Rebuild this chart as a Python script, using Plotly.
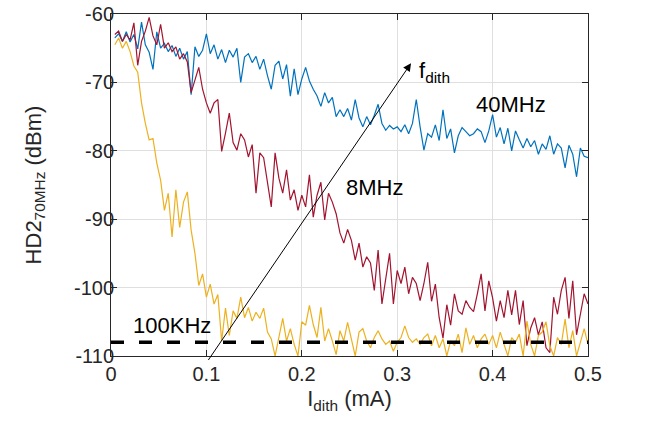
import numpy as np
import plotly.graph_objects as go

# current axis (mA): 0.004 ... 0.500
i_dith = np.round(np.arange(1, 126) * 0.004, 3)

hd2_40mhz = [
    -63.5, -62.9, -64.0, -62.6, -64.1, -63.0, -65.1, -61.2, -64.5, -65.6,
    -68.1, -62.6, -65.0, -64.3, -65.5, -64.6, -66.2, -65.0, -66.6, -65.5,
    -71.8, -64.8, -66.2, -65.3, -62.9, -65.8, -64.5, -66.6, -65.2, -67.1,
    -65.3, -66.3, -65.0, -70.0, -66.3, -65.8, -67.1, -66.2, -68.1, -66.6,
    -69.0, -71.0, -67.5, -66.9, -69.5, -67.4, -72.0, -68.0, -71.8, -69.5,
    -67.8, -69.8, -71.0, -72.0, -73.5, -71.5, -73.0, -72.2, -75.0, -74.0,
    -75.0, -73.8, -75.5, -72.5, -75.2, -76.5, -75.0, -76.2, -74.8, -73.2,
    -76.0, -77.0, -76.3, -76.8, -76.5, -77.2, -76.2, -77.5, -76.0, -72.5,
    -76.5, -79.9, -77.5, -78.0, -76.2, -78.5, -74.0, -78.2, -76.8, -80.3,
    -77.8, -76.6, -77.2, -77.8, -77.5, -76.8, -77.2, -78.8, -77.1, -74.7,
    -78.0, -76.6, -79.0, -76.7, -80.0, -77.1, -78.4, -79.6, -78.2, -79.4,
    -78.5, -80.5, -79.0, -79.8, -77.8, -80.5, -79.0, -79.6, -82.5, -79.2,
    -80.5, -83.8, -79.6, -80.8, -81.0,
]

hd2_8mhz = [
    -63.0, -62.5, -64.0, -63.0, -63.8, -61.3, -67.5, -64.0, -62.5, -60.5,
    -63.2, -64.5, -61.5, -65.0, -64.2, -65.5, -64.8, -66.6, -65.8, -67.0,
    -71.5, -69.5, -67.8, -71.0, -73.0, -74.5, -73.0, -72.5, -80.1, -77.4,
    -74.5, -78.8, -79.9, -77.5, -78.4, -80.9, -79.1, -86.2, -80.3, -81.0,
    -84.3, -88.2, -80.3, -84.0, -86.2, -82.8, -87.2, -85.7, -88.7, -86.5,
    -88.2, -83.5, -89.7, -86.5, -84.6, -90.1, -86.2, -87.5, -89.2, -92.0,
    -93.5, -91.5, -93.1, -96.0, -93.5, -97.0, -95.5, -96.4, -100.4, -94.5,
    -102.4, -98.5, -95.0, -102.4, -97.5, -99.4, -97.0, -100.9, -98.5, -99.4,
    -101.9, -99.4, -96.3, -102.0, -99.5, -104.4, -107.4, -102.5, -105.5, -100.9,
    -103.4, -103.9, -101.9, -102.9, -103.5, -100.9, -98.0, -103.4, -99.0, -101.5,
    -104.9, -101.9, -104.4, -100.4, -104.0, -100.4, -105.4, -101.9, -108.5, -105.9,
    -104.4, -106.9, -105.0, -108.8, -109.5, -101.4, -103.9, -100.4, -98.5, -104.5,
    -99.0, -106.9, -103.9, -100.9, -102.4,
]

hd2_100khz = [
    -64.5, -63.5, -65.0, -64.0, -65.5, -67.6, -68.5, -73.0, -76.0, -78.4,
    -78.2, -81.8, -84.3, -88.7, -86.2, -92.6, -85.7, -91.2, -87.5, -86.0,
    -91.6, -95.0, -99.7, -98.0, -101.4, -99.5, -102.4, -101.0, -107.8, -103.0,
    -107.0, -103.4, -104.5, -101.4, -104.4, -102.9, -104.9, -103.6, -104.5, -103.0,
    -106.5, -107.5, -110.0, -107.5, -104.5, -107.8, -106.0, -108.3, -110.0, -105.0,
    -105.5, -102.6, -105.4, -107.3, -102.9, -107.8, -106.0, -107.8, -109.8, -106.3,
    -107.8, -105.1, -107.8, -110.0, -106.5, -106.0, -107.8, -108.8, -107.3, -106.3,
    -107.5, -108.3, -107.8, -109.3, -108.0, -107.3, -105.6, -107.3, -108.0, -107.5,
    -108.3, -107.3, -106.8, -108.5, -107.0, -108.8, -107.5, -110.0, -107.8, -108.5,
    -106.8, -109.5, -105.9, -108.3, -107.0, -108.8, -107.5, -106.8, -108.3, -107.0,
    -108.8, -106.5, -108.3, -110.0, -107.3, -108.0, -106.8, -110.0, -104.9, -108.3,
    -110.0, -107.0, -106.5, -105.0, -108.5, -110.0, -107.3, -108.3, -104.6, -108.8,
    -106.3, -110.0, -108.0, -106.0, -108.3,
]

noise_floor_x = [0.0, 0.5]
noise_floor_y = [-108.0, -108.0]

x_ticks = [0, 0.1, 0.2, 0.3, 0.4, 0.5]
x_ticktext = ["0", "0.1", "0.2", "0.3", "0.4", "0.5"]
y_ticks = [-110, -100, -90, -80, -70, -60]
y_ticktext = ["-110", "-100", "-90", "-80", "-70", "-60"]

FONT = "Liberation Sans, Arial, Helvetica, sans-serif"
AX = "#262626"

fig = go.Figure()
fig.add_trace(go.Scatter(x=i_dith, y=hd2_40mhz, mode="lines",
                         line=dict(color="#0072BD", width=1.2), name="40MHz"))
fig.add_trace(go.Scatter(x=i_dith, y=hd2_8mhz, mode="lines",
                         line=dict(color="#A2142F", width=1.2), name="8MHz"))
fig.add_trace(go.Scatter(x=i_dith, y=hd2_100khz, mode="lines",
                         line=dict(color="#EDB120", width=1.2), name="100KHz"))
fig.add_trace(go.Scatter(x=noise_floor_x, y=noise_floor_y, mode="lines",
                         line=dict(color="black", width=3.5, dash="13px,15px"),
                         name="Nout"))

ann_font = dict(family=FONT, size=22, color="black")
fig.add_annotation(x=0.419, y=-73.3, text="40MHz", showarrow=False, font=ann_font)
fig.add_annotation(x=0.276, y=-85.3, text="8MHz", showarrow=False, font=ann_font)
fig.add_annotation(x=0.064, y=-105.5, text="100KHz", showarrow=False, font=ann_font)
fig.add_annotation(x=0.321, y=-68.5, text="f<sub>dith</sub>", showarrow=False,
                   font=ann_font, xanchor="left", yanchor="middle")
fig.add_annotation(x=0.503, y=-109.0, text="N<sub>out</sub>", showarrow=False,
                   font=ann_font, xanchor="left", yanchor="middle")
# arrow
fig.add_annotation(x=0.3145, y=-67.2, ax=0.101, ay=-110.8, xref="x", yref="y",
                   axref="x", ayref="y", text="", showarrow=True,
                   arrowhead=2, arrowsize=1.6, arrowwidth=1, arrowcolor="black",
                   standoff=0, startstandoff=0)

fig.update_layout(
    width=668, height=430,
    margin=dict(l=111, r=80, t=14, b=74, autoexpand=False),
    plot_bgcolor="white", paper_bgcolor="white",
    showlegend=False,
    font=dict(family=FONT, size=20, color=AX),
)
fig.update_xaxes(
    range=[0, 0.5], tickvals=x_ticks, ticktext=x_ticktext, automargin=False,
    showgrid=True, gridcolor="#dfdfdf", gridwidth=1,
    showline=True, linecolor=AX, linewidth=1, mirror="allticks",
    ticks="inside", ticklen=6, tickcolor=AX, zeroline=False,
    ticklabeloverflow="allow",
    tickfont=dict(size=20, color=AX, family=FONT),
    title=dict(text="I<sub>dith</sub> (mA)", font=dict(size=22, color=AX, family=FONT), standoff=6),
)
fig.update_yaxes(
    range=[-110, -60], tickvals=y_ticks, ticktext=y_ticktext, automargin=False,
    showgrid=True, gridcolor="#dfdfdf", gridwidth=1,
    showline=True, linecolor=AX, linewidth=1, mirror="allticks",
    ticks="inside", ticklen=6, tickcolor=AX, zeroline=False,
    ticklabelstandoff=-8, ticklabeloverflow="allow",
    tickfont=dict(size=20, color=AX, family=FONT),
    title=dict(text="HD2<sub>70MHz</sub> (dBm)", font=dict(size=22, color=AX, family=FONT), standoff=26),
)

fig.write_html("out.html", config={"displayModeBar": False},
               post_script="document.body.style.margin='0';")
